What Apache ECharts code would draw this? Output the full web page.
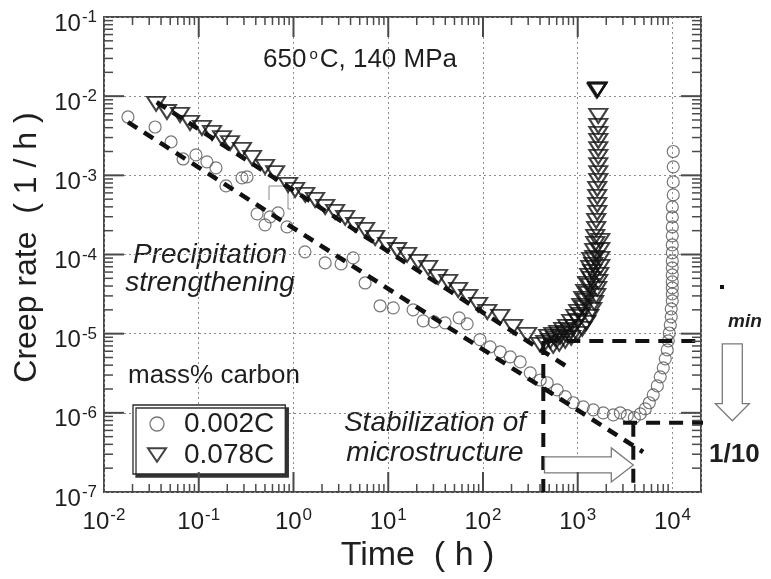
<!DOCTYPE html>
<html>
<head>
<meta charset="utf-8">
<script src="https://cdn.jsdelivr.net/npm/echarts@6/dist/echarts.min.js"></script>
<style>
  html, body { margin: 0; padding: 0; background: #fff; }
  #chart { width: 771px; height: 579px; }
</style>
</head>
<body>
<div id="chart"></div>
<script>
// Creep rate vs. time at 650 °C / 140 MPa for two carbon contents (log–log)

// ---- axis ranges and decade tick labels ----
const timeRange = [0.01, 20000];
const rateRange = [1e-7, 0.1];
const timeDecades = [0.01, 0.1, 1, 10, 100, 1000, 10000];
const rateDecades = [1e-7, 1e-6, 1e-5, 1e-4, 1e-3, 1e-2, 1e-1];

// ---- 0.002 mass% C (circles) ----
const lowCarbonTime = [
  0.0179, 0.0346, 0.051, 0.0683, 0.0935, 0.122, 0.152, 0.194, 0.286, 0.323,
  0.413, 0.501, 0.566, 0.687, 0.855, 1.32, 2.16, 3.18, 4.26, 5.7,
  8.2, 11.3, 18.3, 23.4, 30.5, 39.8, 56, 68, 93, 119,
  152, 194, 247, 315, 402, 476, 607, 738, 897, 1144,
  1459, 1859, 2371, 2812, 3334, 3955, 4571, 5164, 5690, 6270,
  6918, 7430, 7998, 8395, 8810, 9036, 9250, 9484, 9705, 9705,
  9954, 9954, 9954, 9954, 9954, 9954, 9954, 9954, 9954, 9954,
  9954, 9954, 9954, 10190, 10190, 10190, 10190
];
const lowCarbonRate = [
  5.46e-3, 4.08e-3, 2.64e-3, 1.61e-3, 1.81e-3, 1.48e-3, 1.24e-3, 7.35e-4, 9.27e-4, 9.55e-4,
  3.26e-4, 2.37e-4, 2.99e-4, 3.35e-4, 2.23e-4, 1.08e-4, 7.83e-5, 7.6e-5, 9.06e-5, 4.37e-5,
  2.25e-5, 2.12e-5, 2.0e-5, 1.45e-5, 1.41e-5, 1.37e-5, 1.58e-5, 1.33e-5, 8.4e-6, 6.8e-6,
  5.9e-6, 5.1e-6, 4.4e-6, 3.2e-6, 2.6e-6, 2.4e-6, 1.95e-6, 1.6e-6, 1.34e-6, 1.19e-6,
  1.09e-6, 1.0e-6, 9.44e-7, 1.0e-6, 9.2e-7, 8.7e-7, 9.7e-7, 1.12e-6, 1.34e-6, 1.69e-6,
  2.19e-6, 2.85e-6, 3.7e-6, 4.81e-6, 6.24e-6, 8.11e-6, 1.02e-5, 1.29e-5, 1.63e-5, 2.06e-5,
  2.6e-5, 3.18e-5, 3.79e-5, 4.51e-5, 5.52e-5, 6.78e-5, 8.3e-5, 1.05e-4, 1.32e-4, 1.72e-4,
  2.23e-4, 2.98e-4, 3.99e-4, 5.66e-4, 8.26e-4, 1.28e-3, 2.0e-3
];

// ---- 0.078 mass% C (triangles) ----
const highCarbonTime = [
  0.0355, 0.0462, 0.0635, 0.0809, 0.108, 0.138, 0.176, 0.214, 0.286, 0.365,
  0.501, 0.64, 0.877, 1.04, 1.33, 1.69, 2.16, 2.75, 3.51, 4.47,
  5.7, 7.27, 9.73, 12.4, 15.8, 20.7, 26.4, 33.6, 42.9, 54.7,
  69.8, 89, 111, 152, 208, 293, 402,
  454, 513, 578, 653, 738, 834, 918, 1012, 1089, 1172,
  1230, 1291, 1355, 1390, 1422, 1459, 1493, 1493, 1531, 1531,
  1567, 1567, 1607, 1607, 1607, 1607, 1648, 1648, 1648, 1648,
  1648, 1648, 1648, 1648, 1648, 1607, 1607, 1590, 1625,
  488, 551, 622, 703, 774, 853, 942, 1012, 1089, 1143,
  1200, 1260, 1322, 1355, 1389,
  551, 638, 738, 853, 988, 1117, 1230, 1322, 1422, 1493,
  1567, 1607, 1648, 1687, 1730, 1730, 1730, 1730
];
const highCarbonRate = [
  8.0e-3, 6.31e-3, 5.79e-3, 4.59e-3, 3.97e-3, 3.43e-3, 2.96e-3, 2.56e-3, 2.09e-3, 1.66e-3,
  1.28e-3, 1.07e-3, 7.56e-4, 6.54e-4, 5.66e-4, 4.89e-4, 3.99e-4, 3.45e-4, 2.9e-4, 2.37e-4,
  2.05e-4, 1.62e-4, 1.32e-4, 1.14e-4, 9.9e-5, 8.07e-5, 6.78e-5, 5.21e-5, 4.51e-5, 3.57e-5,
  2.92e-5, 2.31e-5, 1.88e-5, 1.63e-5, 1.22e-5, 9.66e-6, 7.23e-6,
  7.66e-6, 8.11e-6, 8.59e-6, 9.12e-6, 9.94e-6, 1.08e-5, 1.22e-5, 1.45e-5, 1.73e-5, 2.12e-5,
  2.6e-5, 3.18e-5, 4.02e-5, 4.92e-5, 6.03e-5, 7.39e-5, 9.06e-5, 1.11e-4, 1.36e-4, 1.67e-4,
  2.1e-4, 2.65e-4, 3.35e-4, 4.23e-4, 5.34e-4, 6.73e-4, 8.49e-4, 1.07e-3, 1.35e-3, 1.71e-3,
  2.15e-3, 2.72e-3, 3.33e-3, 4.2e-3, 5.62e-3, 1.2e-2, 1.2e-2, 1.17e-2, 1.23e-2,
  9.12e-6, 9.66e-6, 1.02e-5, 1.12e-5, 1.22e-5, 1.41e-5, 1.63e-5, 1.88e-5, 2.25e-5, 2.75e-5,
  3.37e-5, 4.25e-5, 5.37e-5, 6.78e-5, 8.55e-5,
  7.01e-6, 7.43e-6, 8.11e-6, 8.85e-6, 9.94e-6, 1.15e-5, 1.37e-5, 1.63e-5, 2.0e-5, 2.45e-5,
  3.0e-5, 3.68e-5, 4.51e-5, 5.52e-5, 6.97e-5, 8.79e-5, 1.14e-4, 1.49e-4
];

// ---- power-law guide lines through the primary stage ----
const highCarbonFitTime = [0.036, 834];
const highCarbonFitRate = [8.4e-3, 3.6e-6];
const lowCarbonFitTime = [0.0179, 4900];
const lowCarbonFitRate = [4.7e-3, 3.2e-7];

// ---- minimum creep rates and their times ----
const minTime = [433, 3860];          // 0.078C, 0.002C
const minRate = [8.1e-6, 7.5e-7];     // 0.078C, 0.002C
const marginTime = 110000;            // guide lines run into the right margin
const dropArrowTime = 42800;          // "1/10" arrow sits in the right margin
const shiftArrowRate = 2.2e-7;        // "time shift" arrow height

const pairs = (xs, ys) => xs.map((x, i) => [x, ys[i]]);

function minorTicks(lo, hi) {
  const out = [];
  for (let e = Math.floor(Math.log10(lo)); e <= Math.ceil(Math.log10(hi)); e++) {
    for (let m = 2; m <= 9; m++) {
      const v = +(m * Math.pow(10, e)).toPrecision(3);
      if (v > lo && v < hi) out.push(v);
    }
  }
  return out;
}
const inner = arr => arr.slice(1, -1);

const FONT = '"Liberation Sans", Arial, Helvetica, sans-serif';
const INK = '#1e1e1e';
const FRAME = '#4a4a4a';
const TRIANGLE = 'path://M0,0 L20,0 L10,15 Z';

const powerLabel = {
  formatter: v => '{b|10}{e|' + Math.round(Math.log10(v)) + '}',
  rich: {
    b: { fontFamily: FONT, fontSize: 24, color: INK, lineHeight: 27, verticalAlign: 'bottom' },
    e: { fontFamily: FONT, fontSize: 17, color: INK, lineHeight: 17, verticalAlign: 'top', padding: [0, 0, 0, 1] }
  }
};

const hidden = { show: false };

// Inside tick marks on all four sides of the frame
function tickSeries(axis, values, len, width) {
  return {
    type: 'custom', coordinateSystem: 'cartesian2d', clip: false, silent: true, z: 6,
    data: values.map(v => axis === 'x' ? [v, rateRange[0]] : [timeRange[0], v]),
    renderItem(params, api) {
      const cs = params.coordSys;
      const st = { stroke: FRAME, lineWidth: width };
      if (axis === 'x') {
        const px = api.coord([api.value(0), api.value(1)])[0];
        const b = cs.y + cs.height, t = cs.y;
        return { type: 'group', children: [
          { type: 'line', shape: { x1: px, y1: b, x2: px, y2: b - len }, style: st },
          { type: 'line', shape: { x1: px, y1: t, x2: px, y2: t + len }, style: st }
        ] };
      }
      const py = api.coord([api.value(0), api.value(1)])[1];
      const l = cs.x, r = cs.x + cs.width;
      return { type: 'group', children: [
        { type: 'line', shape: { x1: l, y1: py, x2: l + len, y2: py }, style: st },
        { type: 'line', shape: { x1: r, y1: py, x2: r - len, y2: py }, style: st }
      ] };
    }
  };
}

// Hollow block arrow from p0 to p1 drawn in data coordinates
function blockArrow(shaftHalf, headHalf, headLen) {
  return function (params, api) {
    const p0 = api.coord([api.value(0), api.value(1)]);
    const p1 = api.coord([api.value(2), api.value(3)]);
    const dx = p1[0] - p0[0], dy = p1[1] - p0[1];
    const len = Math.hypot(dx, dy);
    const ux = dx / len, uy = dy / len, nx = -uy, ny = ux;
    const bx = p1[0] - ux * headLen, by = p1[1] - uy * headLen;
    const pts = [
      [p0[0] + nx * shaftHalf, p0[1] + ny * shaftHalf],
      [bx + nx * shaftHalf, by + ny * shaftHalf],
      [bx + nx * headHalf, by + ny * headHalf],
      [p1[0], p1[1]],
      [bx - nx * headHalf, by - ny * headHalf],
      [bx - nx * shaftHalf, by - ny * shaftHalf],
      [p0[0] - nx * shaftHalf, p0[1] - ny * shaftHalf]
    ];
    return {
      type: 'polygon',
      shape: { points: pts },
      style: { fill: '#fff', stroke: '#7a7a7a', lineWidth: 1.3 }
    };
  };
}

const dashFit = { color: '#111', width: 4.5, type: [11, 8], cap: 'butt' };
const dashGuide = { color: '#111', width: 4, type: [14, 9], cap: 'butt' };

function lineSeries(data, style, z) {
  return {
    type: 'line', data, symbol: 'none', clip: false, silent: true, z,
    lineStyle: style, emphasis: { disabled: true }, animation: false
  };
}

const chart = echarts.init(document.getElementById('chart'), null, { renderer: 'canvas' });

chart.setOption({
  animation: false,
  backgroundColor: '#fff',
  grid: {
    left: 104, right: 70, top: 17, bottom: 87, containLabel: false,
    show: true, borderColor: FRAME, borderWidth: 2, backgroundColor: 'rgba(0,0,0,0)'
  },
  xAxis: {
    type: 'log', logBase: 10, min: timeRange[0], max: timeRange[1], position: 'bottom', silent: true,
    axisLine: hidden, axisTick: hidden, minorTick: hidden, minorSplitLine: hidden,
    axisLabel: Object.assign({ show: true, customValues: timeDecades, margin: 15 }, powerLabel),
    splitLine: { show: true, lineStyle: { color: '#8c8c8c', width: 1, type: [2, 3] } },
    name: 'Time  ( h )', nameLocation: 'middle', nameGap: 47,
    nameTextStyle: { fontFamily: FONT, fontSize: 34, color: INK, padding: [0, 0, 0, 30] }
  },
  yAxis: {
    type: 'log', logBase: 10, min: rateRange[0], max: rateRange[1], position: 'left', silent: true,
    axisLine: hidden, axisTick: hidden, minorTick: hidden, minorSplitLine: hidden,
    axisLabel: Object.assign({ show: true, customValues: rateDecades, margin: 7, padding: [11, 0, 0, 0] }, powerLabel),
    splitLine: { show: true, lineStyle: { color: '#8c8c8c', width: 1, type: [2, 3] } },
    name: 'Creep rate  ( 1 / h )', nameLocation: 'middle', nameGap: 58,
    nameTextStyle: { fontFamily: FONT, fontSize: 32, color: INK, padding: [0, 0, 0, 14] }
  },
  legend: {
    orient: 'vertical', left: 133, top: 405,
    selectedMode: false,
    itemWidth: 18, itemHeight: 14, itemGap: 3,
    padding: [5, 11, 5, 14],
    backgroundColor: '#fff', borderColor: '#2a2a2a', borderWidth: 1.3, borderRadius: 0,
    shadowColor: '#333', shadowOffsetX: 3, shadowOffsetY: 3, shadowBlur: 0,
    textStyle: { fontFamily: FONT, fontSize: 28, lineHeight: 26, color: INK, padding: [0, 0, 0, 13] },
    data: [
      { name: '0.002C', icon: 'circle', itemStyle: { color: 'rgba(0,0,0,0)', borderColor: '#555', borderWidth: 1.3 } },
      { name: '0.078C', icon: TRIANGLE, itemStyle: { color: 'rgba(0,0,0,0)', borderColor: '#111', borderWidth: 2 } }
    ]
  },
  series: [
    {
      name: '0.002C', type: 'scatter', data: pairs(lowCarbonTime, lowCarbonRate),
      symbol: 'circle', symbolSize: 12, z: 3,
      itemStyle: { color: 'rgba(0,0,0,0)', borderColor: '#555', borderWidth: 1.2 },
      emphasis: { disabled: true }
    },
    {
      name: '0.078C', type: 'scatter', data: pairs(highCarbonTime, highCarbonRate),
      symbol: TRIANGLE, symbolSize: [18, 14], symbolKeepAspect: false, z: 3,
      itemStyle: { color: 'rgba(0,0,0,0)', borderColor: '#111', borderWidth: 2 },
      emphasis: { disabled: true }
    },
    lineSeries(pairs(highCarbonFitTime, highCarbonFitRate), dashFit, 4),
    lineSeries(pairs(lowCarbonFitTime, lowCarbonFitRate), dashFit, 4),
    // minimum-rate levels
    lineSeries([[minTime[0], minRate[0]], [marginTime, minRate[0]]], dashGuide, 4),
    lineSeries([[minTime[1] * 0.78, minRate[1]], [marginTime, minRate[1]]], dashGuide, 4),
    // times of minimum
    lineSeries([[minTime[0], minRate[0]], [minTime[0], rateRange[0]]], dashGuide, 4),
    lineSeries([[minTime[1], minRate[1]], [minTime[1], rateRange[0]]], dashGuide, 4),
    {
      type: 'custom', coordinateSystem: 'cartesian2d', clip: false, silent: true, z: 5,
      renderItem: blockArrow(8, 17, 22),
      data: [[minTime[0] * 1.03, shiftArrowRate, minTime[1], shiftArrowRate]]
    },
    {
      type: 'custom', coordinateSystem: 'cartesian2d', clip: false, silent: true, z: 5,
      renderItem: blockArrow(10, 17, 17),
      data: [[dropArrowTime, minRate[0] * 0.92, dropArrowTime, minRate[1] * 1.06]]
    },
    tickSeries('x', inner(timeDecades), 20, 2),
    tickSeries('x', minorTicks(timeRange[0], timeRange[1]), 8, 1.5),
    tickSeries('y', inner(rateDecades), 20, 2),
    tickSeries('y', minorTicks(rateRange[0], rateRange[1]), 9, 1.5)
  ],
  graphic: [
    {
      type: 'text', left: 263, top: 47, silent: true,
      style: {
        text: '650{o|o}C, 140 MPa', fill: INK, font: '26px ' + FONT,
        rich: { o: { fontFamily: FONT, fontSize: 15, fill: INK, verticalAlign: 'top', lineHeight: 15, padding: [0, 2, 0, 3] } }
      }
    },
    {
      type: 'text', x: 210, y: 269, silent: true,
      style: {
        text: 'Precipitation\nstrengthening', fill: INK, font: 'italic 28px ' + FONT,
        align: 'center', verticalAlign: 'middle', lineHeight: 28
      }
    },
    {
      type: 'text', left: 128, top: 363, silent: true,
      style: { text: 'mass% carbon', fill: INK, font: '26px ' + FONT }
    },
    {
      type: 'text', x: 435, y: 438, silent: true,
      style: {
        text: 'Stabilization of\nmicrostructure', fill: INK, font: 'italic 28px ' + FONT,
        align: 'center', verticalAlign: 'middle', lineHeight: 30
      }
    },
    {
      type: 'text', left: 728, top: 312, silent: true,
      style: { text: 'min', fill: INK, font: 'italic bold 19px ' + FONT }
    },
    {
      type: 'text', left: 709, top: 442, silent: true,
      style: { text: '1/10', fill: INK, font: 'bold 26px ' + FONT }
    },
    {
      type: 'rect', left: 720, top: 285, silent: true,
      shape: { width: 4, height: 4 }, style: { fill: '#111' }
    },
    {
      type: 'polyline', silent: true,
      shape: { points: [[269, 200], [269, 186], [288, 186], [288, 209], [291, 209]] },
      style: { stroke: '#8a8a8a', lineWidth: 1, fill: null }
    }
  ]
});
</script>
</body>
</html>
